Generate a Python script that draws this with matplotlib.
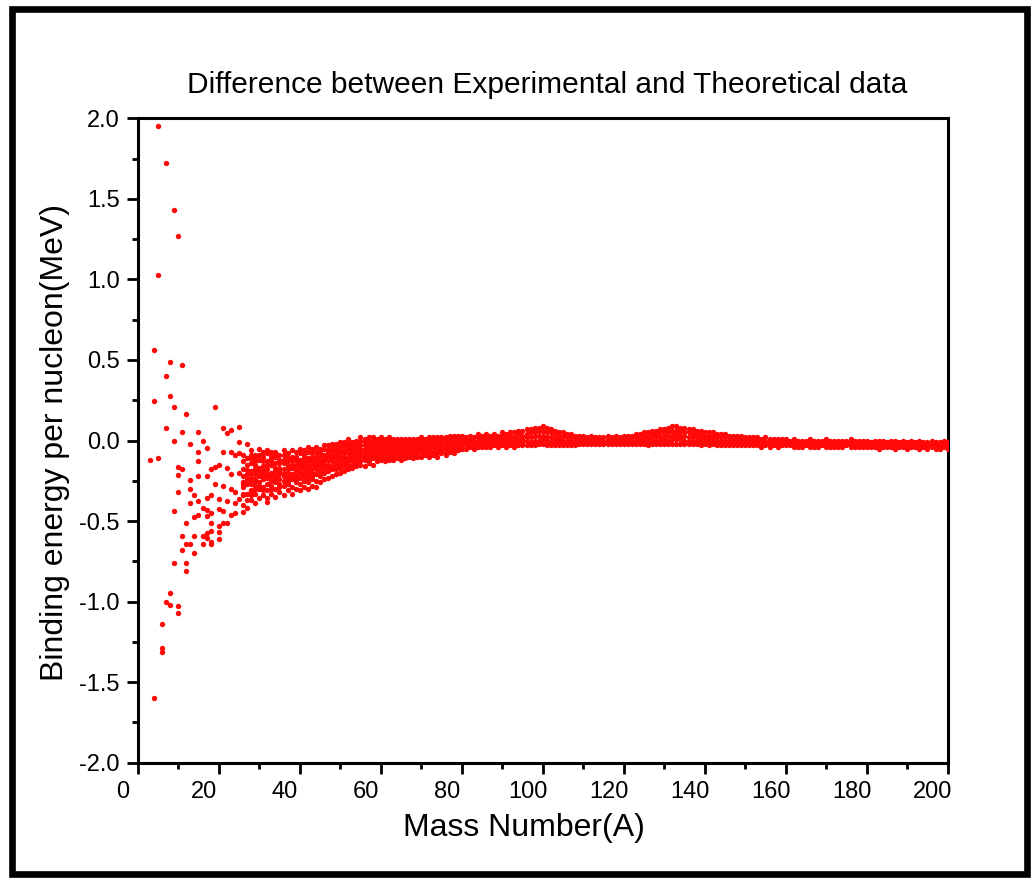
import matplotlib
matplotlib.use("Agg")
import matplotlib.pyplot as plt
import matplotlib.transforms as mtransforms
from matplotlib.patches import Rectangle
from matplotlib.ticker import MultipleLocator

plt.rcParams['font.family'] = ['Liberation Sans', 'DejaVu Sans']

# ---------------- text ----------------
title = "Difference between Experimental and Theoretical data"
xlabel = "Mass Number(A)"
ylabel = "Binding energy per nucleon(MeV)"
x_ticks = [0, 20, 40, 60, 80, 100, 120, 140, 160, 180, 200]
y_ticks = [-2.0, -1.5, -1.0, -0.5, 0.0, 0.5, 1.0, 1.5, 2.0]
y_ticklabels = ["-2.0", "-1.5", "-1.0", "-0.5", "0.0", "0.5", "1.0", "1.5", "2.0"]

# ---------------- light nuclei (individual points) ----------------
light_A = [5, 7, 9, 10, 5,
           4, 8, 11, 7, 4, 8, 9, 19, 12, 7, 11, 15, 21, 22, 23, 25, 9, 13, 16, 17, 15, 21, 25, 27, 31, 3, 5,
           10, 10, 13, 10, 13, 9, 13, 12, 11, 9, 11, 12, 12, 8, 7, 8, 10, 10, 6, 6, 6, 4,
           15, 11, 15, 17, 14, 15, 17, 16, 17, 14, 15, 14, 16, 12, 13, 16, 18, 20, 14,
           25, 24, 27, 29, 23, 19, 20, 18, 22, 23, 25, 27, 29, 31,
           19, 21, 23, 24, 26, 28, 29, 31, 18, 20, 22, 24, 25, 26, 28, 30, 32,
           17, 18, 20, 21, 23, 24, 26, 18, 20, 21, 22, 17, 18, 20, 17, 18,
           28, 29, 33, 34]
light_E = [1.95, 1.72, 1.43, 1.27, 1.03,
           0.56, 0.49, 0.47, 0.40, 0.245, 0.274, 0.21, 0.21, 0.167, 0.076, 0.055, 0.051, 0.076, 0.047, 0.068,
           0.084, 0.0, -0.02, 0.0, -0.046, -0.073, -0.07, -0.01, -0.023, -0.073, -0.12, -0.11,
           -0.164, -0.216, -0.247, -0.32, -0.30, -0.44, -0.39, -0.515, -0.59, -0.76, -0.68, -0.76, -0.81,
           -0.945, -1.0, -1.02, -1.03, -1.07, -1.14, -1.29, -1.31, -1.60,
           -0.127, -0.174, -0.218, -0.218, -0.337, -0.375, -0.356, -0.42, -0.43, -0.476, -0.46, -0.594,
           -0.594, -0.645, -0.64, -0.64, -0.64, -0.61, -0.697,
           -0.077, -0.09, -0.11, -0.104, -0.069, -0.164, -0.15, -0.18, -0.17, -0.21, -0.20, -0.185, -0.176, -0.19,
           -0.273, -0.284, -0.30, -0.32, -0.267, -0.25, -0.24, -0.226, -0.34, -0.366, -0.377, -0.387, -0.366,
           -0.335, -0.315, -0.304, -0.358,
           -0.466, -0.453, -0.428, -0.44, -0.46, -0.453, -0.445, -0.515, -0.53, -0.515, -0.51, -0.573, -0.563,
           -0.57, -0.604, -0.63,
           -0.087, -0.098, -0.094, -0.077]

# ---------------- dense band: one list of values per mass number ----------------
band_A_26_59 = list(range(26, 60))
band_E_26_59 = [
    [-0.09, -0.13, -0.18, -0.22, -0.26, -0.29, -0.34, -0.40],
    [-0.11, -0.15, -0.21, -0.24, -0.27, -0.33, -0.37, -0.42],
    [-0.06, -0.11, -0.14, -0.19, -0.21, -0.23, -0.27, -0.31, -0.34, -0.37],
    [-0.09, -0.13, -0.15, -0.18, -0.21, -0.25, -0.28, -0.30, -0.33, -0.39],
    [-0.05, -0.09, -0.12, -0.17, -0.19, -0.22, -0.26, -0.28, -0.30, -0.36],
    [-0.08, -0.10, -0.13, -0.16, -0.20, -0.22, -0.24, -0.29, -0.31, -0.34],
    [-0.06, -0.08, -0.13, -0.15, -0.18, -0.21, -0.23, -0.27, -0.31, -0.38],
    [-0.07, -0.11, -0.13, -0.15, -0.20, -0.22, -0.25, -0.28, -0.30, -0.33],
    [-0.07, -0.10, -0.14, -0.17, -0.19, -0.22, -0.24, -0.26, -0.30, -0.35],
    [-0.09, -0.12, -0.14, -0.17, -0.19, -0.21, -0.24, -0.27, -0.29, -0.32],
    [-0.06, -0.09, -0.12, -0.14, -0.18, -0.20, -0.22, -0.25, -0.28, -0.34],
    [-0.08, -0.11, -0.13, -0.16, -0.18, -0.20, -0.23, -0.25, -0.27, -0.31],
    [-0.06, -0.10, -0.13, -0.15, -0.17, -0.21, -0.22, -0.24, -0.29, -0.33],
    [-0.07, -0.10, -0.12, -0.15, -0.17, -0.19, -0.22, -0.24, -0.26, -0.30],
    [-0.05, -0.08, -0.12, -0.14, -0.16, -0.18, -0.20, -0.23, -0.27, -0.31],
    [-0.06, -0.09, -0.11, -0.14, -0.16, -0.18, -0.20, -0.22, -0.25, -0.29],
    [-0.04, -0.07, -0.11, -0.13, -0.15, -0.17, -0.19, -0.21, -0.23, -0.26, -0.30],
    [-0.05, -0.08, -0.10, -0.13, -0.15, -0.17, -0.20, -0.22, -0.24, -0.28],
    [-0.04, -0.07, -0.10, -0.12, -0.14, -0.16, -0.18, -0.21, -0.25, -0.29],
    [-0.05, -0.07, -0.09, -0.12, -0.14, -0.16, -0.19, -0.22, -0.26],
    [-0.03, -0.05, -0.09, -0.11, -0.13, -0.15, -0.17, -0.20, -0.24],
    [-0.03, -0.06, -0.08, -0.10, -0.12, -0.15, -0.17, -0.19, -0.23],
    [-0.02, -0.04, -0.06, -0.09, -0.11, -0.13, -0.16, -0.18, -0.22],
    [-0.02, -0.05, -0.07, -0.09, -0.11, -0.14, -0.16, -0.18, -0.21],
    [-0.01, -0.04, -0.06, -0.08, -0.10, -0.12, -0.15, -0.17, -0.20],
    [-0.01, -0.03, -0.06, -0.08, -0.10, -0.13, -0.14, -0.16, -0.19],
    [0.01, -0.02, -0.04, -0.06, -0.08, -0.11, -0.13, -0.15, -0.18],
    [-0.01, -0.03, -0.05, -0.07, -0.09, -0.11, -0.12, -0.15, -0.17],
    [0.00, -0.02, -0.04, -0.06, -0.08, -0.10, -0.12, -0.14, -0.16],
    [0.02, 0.00, -0.03, -0.05, -0.07, -0.09, -0.11, -0.13, -0.15],
    [0.01, -0.01, -0.03, -0.05, -0.07, -0.09, -0.10, -0.12, -0.16],
    [0.02, 0.00, -0.02, -0.04, -0.06, -0.08, -0.10, -0.12, -0.14],
    [0.02, 0.00, -0.02, -0.04, -0.06, -0.08, -0.09, -0.11, -0.15],
    [0.01, -0.01, -0.02, -0.04, -0.06, -0.08, -0.10, -0.11, -0.13],
]

band_A_60_99 = list(range(60, 100))
band_E_60_99 = [
    [0.02, 0.00, -0.02, -0.04, -0.05, -0.07, -0.09, -0.10, -0.12],
    [0.01, -0.01, -0.03, -0.04, -0.06, -0.08, -0.09, -0.11, -0.13],
    [0.02, 0.00, -0.02, -0.04, -0.05, -0.07, -0.09, -0.10, -0.12],
    [0.01, -0.01, -0.02, -0.04, -0.06, -0.07, -0.08, -0.10, -0.12],
    [0.01, -0.01, -0.02, -0.04, -0.05, -0.07, -0.09, -0.11],
    [0.01, -0.01, -0.03, -0.04, -0.05, -0.08, -0.10, -0.12],
    [0.01, 0.00, -0.02, -0.03, -0.05, -0.07, -0.09, -0.11],
    [0.01, -0.01, -0.03, -0.04, -0.05, -0.07, -0.08, -0.10],
    [0.01, 0.00, -0.02, -0.04, -0.05, -0.07, -0.09, -0.11],
    [0.01, -0.01, -0.03, -0.04, -0.05, -0.06, -0.08, -0.10],
    [0.02, 0.01, -0.01, -0.02, -0.04, -0.06, -0.08, -0.10],
    [0.01, 0.00, -0.02, -0.03, -0.05, -0.07, -0.09],
    [0.02, 0.01, -0.01, -0.02, -0.04, -0.06, -0.08, -0.10],
    [0.02, 0.00, -0.02, -0.03, -0.04, -0.07, -0.09],
    [0.02, 0.01, -0.01, -0.03, -0.05, -0.06, -0.08, -0.10],
    [0.02, 0.01, -0.01, -0.03, -0.04, -0.06, -0.08],
    [0.02, 0.01, -0.01, -0.03, -0.04, -0.05, -0.07, -0.09],
    [0.03, 0.02, 0.00, -0.02, -0.04, -0.05, -0.07],
    [0.03, 0.01, 0.00, -0.02, -0.04, -0.06, -0.08],
    [0.03, 0.02, 0.00, -0.02, -0.04, -0.06],
    [0.03, 0.01, -0.01, -0.03, -0.05],
    [0.02, 0.00, -0.02, -0.03, -0.05],
    [0.03, 0.01, -0.01, -0.03, -0.04],
    [0.02, 0.00, -0.02, -0.04, -0.05],
    [0.04, 0.02, 0.00, -0.02, -0.04],
    [0.03, 0.01, -0.01, -0.03, -0.04],
    [0.04, 0.02, 0.00, -0.02, -0.04],
    [0.03, 0.01, -0.01, -0.03, -0.04],
    [0.04, 0.02, 0.00, -0.02, -0.03],
    [0.03, 0.01, -0.01, -0.02, -0.04],
    [0.05, 0.03, 0.01, -0.01, -0.03],
    [0.04, 0.02, 0.00, -0.02, -0.04],
    [0.05, 0.03, 0.01, -0.01, -0.03],
    [0.05, 0.02, 0.00, -0.02, -0.04],
    [0.06, 0.04, 0.01, -0.01, -0.03],
    [0.06, 0.03, 0.01, -0.01, -0.03],
    [0.07, 0.04, 0.02, 0.00, -0.03],
    [0.07, 0.05, 0.02, -0.01, -0.03],
    [0.08, 0.05, 0.03, 0.00, -0.03],
    [0.08, 0.06, 0.03, 0.00, -0.02],
]

band_A_100_149 = list(range(100, 150))
band_E_100_149 = [
    [0.09, 0.06, 0.03, 0.01, -0.02],
    [0.08, 0.05, 0.02, 0.00, -0.03],
    [0.07, 0.05, 0.02, -0.01, -0.03],
    [0.06, 0.04, 0.01, -0.01, -0.03],
    [0.05, 0.03, 0.01, -0.01, -0.03],
    [0.05, 0.03, 0.00, -0.02, -0.03],
    [0.04, 0.02, 0.00, -0.02, -0.03],
    [0.04, 0.02, 0.00, -0.01, -0.03],
    [0.03, 0.02, 0.00, -0.02, -0.03],
    [0.03, 0.01, -0.01, -0.02],
    [0.03, 0.01, 0.00, -0.02],
    [0.02, 0.01, -0.01, -0.02],
    [0.03, 0.01, 0.00, -0.02],
    [0.02, 0.00, -0.01, -0.02],
    [0.02, 0.01, 0.00, -0.02],
    [0.02, 0.00, -0.01, -0.02],
    [0.03, 0.01, 0.00, -0.02],
    [0.02, 0.01, -0.01, -0.02],
    [0.03, 0.01, 0.00, -0.02],
    [0.02, 0.01, -0.01, -0.02],
    [0.03, 0.02, 0.00, -0.02],
    [0.03, 0.01, 0.00, -0.02],
    [0.03, 0.02, 0.00, -0.02],
    [0.04, 0.02, 0.00, -0.02],
    [0.04, 0.02, 0.01, -0.01, -0.02],
    [0.05, 0.03, 0.01, -0.01, -0.02],
    [0.05, 0.03, 0.01, -0.01, -0.03],
    [0.06, 0.04, 0.02, 0.00, -0.02],
    [0.06, 0.04, 0.02, 0.00, -0.02],
    [0.07, 0.05, 0.02, 0.00, -0.02],
    [0.07, 0.05, 0.03, 0.01, -0.02],
    [0.08, 0.05, 0.03, 0.00, -0.02],
    [0.09, 0.06, 0.03, 0.01, -0.02],
    [0.09, 0.06, 0.04, 0.01, -0.02],
    [0.08, 0.06, 0.03, 0.01, -0.02],
    [0.08, 0.05, 0.03, 0.00, -0.02],
    [0.07, 0.05, 0.02, 0.00, -0.02],
    [0.07, 0.04, 0.02, 0.00, -0.02],
    [0.06, 0.04, 0.02, 0.00, -0.02],
    [0.06, 0.04, 0.01, -0.01, -0.03],
    [0.05, 0.03, 0.01, -0.01, -0.02],
    [0.05, 0.03, 0.01, -0.01, -0.03],
    [0.05, 0.03, 0.01, -0.01, -0.02],
    [0.04, 0.02, 0.00, -0.02, -0.03],
    [0.04, 0.02, 0.00, -0.01, -0.03],
    [0.04, 0.02, 0.00, -0.02, -0.03],
    [0.03, 0.02, 0.00, -0.02, -0.03],
    [0.03, 0.01, 0.00, -0.02, -0.03],
    [0.03, 0.01, -0.01, -0.02, -0.03],
    [0.03, 0.01, 0.00, -0.02, -0.03],
]

band_A_150_200 = list(range(150, 201))
band_E_150_200 = [
    [0.02, 0.01, -0.01, -0.02, -0.03],
    [0.02, 0.00, -0.01, -0.03],
    [0.02, 0.01, -0.01, -0.03],
    [0.02, 0.00, -0.02, -0.03],
    [0.01, 0.00, -0.01, -0.03, -0.04],
    [0.02, 0.00, -0.02, -0.03],
    [0.01, 0.00, -0.01, -0.03, -0.04],
    [0.01, -0.01, -0.02, -0.03],
    [0.01, 0.00, -0.02, -0.03, -0.04],
    [0.01, -0.01, -0.02, -0.03],
    [0.01, 0.00, -0.02, -0.03],
    [0.00, -0.01, -0.02, -0.03],
    [0.01, -0.01, -0.02, -0.04],
    [0.00, -0.01, -0.03, -0.04],
    [0.00, -0.02, -0.03, -0.04],
    [0.00, -0.01, -0.02, -0.03],
    [0.01, -0.01, -0.02, -0.04],
    [0.00, -0.01, -0.03, -0.04],
    [0.00, -0.02, -0.03, -0.04],
    [0.00, -0.01, -0.02, -0.03],
    [0.01, -0.01, -0.03, -0.04],
    [0.00, -0.02, -0.03, -0.04],
    [0.00, -0.01, -0.02, -0.04],
    [0.00, -0.01, -0.03, -0.04],
    [0.00, -0.02, -0.03, -0.04],
    [0.00, -0.01, -0.02, -0.03],
    [0.01, -0.01, -0.02, -0.04],
    [0.00, -0.01, -0.03, -0.04],
    [0.00, -0.02, -0.03, -0.04],
    [0.00, -0.01, -0.02, -0.04],
    [0.00, -0.01, -0.03, -0.04],
    [-0.01, -0.02, -0.03, -0.04],
    [0.00, -0.01, -0.03, -0.04],
    [0.00, -0.02, -0.03, -0.05],
    [0.00, -0.01, -0.02, -0.04],
    [-0.01, -0.02, -0.03, -0.04],
    [0.00, -0.01, -0.03, -0.04],
    [0.00, -0.02, -0.03, -0.05],
    [-0.01, -0.02, -0.03, -0.04],
    [0.00, -0.01, -0.03, -0.04],
    [-0.01, -0.02, -0.03, -0.05],
    [0.00, -0.02, -0.03, -0.04],
    [-0.01, -0.02, -0.03, -0.04],
    [0.00, -0.01, -0.03, -0.05],
    [-0.01, -0.02, -0.03, -0.04],
    [-0.01, -0.02, -0.04, -0.05],
    [0.00, -0.02, -0.03, -0.04],
    [-0.01, -0.02, -0.03, -0.05],
    [-0.01, -0.02, -0.04, -0.05],
    [0.00, -0.02, -0.03, -0.04],
    [-0.01, -0.02, -0.03, -0.05],
]

# ---------------- assemble ----------------
xs = list(light_A)
ys = list(light_E)
for A_list, E_list in [(band_A_26_59, band_E_26_59), (band_A_60_99, band_E_60_99),
                       (band_A_100_149, band_E_100_149), (band_A_150_200, band_E_150_200)]:
    for a, vals in zip(A_list, E_list):
        for v in vals:
            xs.append(a)
            ys.append(v)

W, H = 1034, 880
fig = plt.figure(figsize=(W / 100, H / 100), dpi=100)
fig.patch.set_facecolor('white')

# outer black frame
fig.add_artist(Rectangle((12 / W, 6 / H), (1027 - 12) / W, (871 - 6) / H,
                         transform=fig.transFigure, fill=False,
                         edgecolor='black', linewidth=4.8))

x0, x1 = 137.7, 947.7
y_top, y_bot = 118.3, 762.7
ax = fig.add_axes([x0 / W, 1 - y_bot / H, (x1 - x0) / W, (y_bot - y_top) / H])

ax.scatter(xs, ys, s=15, c='#ff0808', linewidths=0, marker='o', zorder=3)

ax.set_xlim(0, 200)
ax.set_ylim(-2.0, 2.0)
ax.set_xticks(x_ticks)
ax.set_yticks(y_ticks)
ax.set_yticklabels(y_ticklabels)
ax.xaxis.set_minor_locator(MultipleLocator(10))
ax.yaxis.set_minor_locator(MultipleLocator(0.25))
ax.tick_params(which='major', direction='out', length=8, width=2.0, labelsize=17,
               top=False, right=False, pad=5)
ax.tick_params(which='minor', direction='out', length=4.5, width=2.0, top=False, right=False)
for sp in ax.spines.values():
    sp.set_linewidth(2.2)

# x tick labels are offset slightly to the left in the original
offset = mtransforms.ScaledTranslation(-15 / 100, 0, fig.dpi_scale_trans)
for lab in ax.get_xticklabels():
    lab.set_transform(lab.get_transform() + offset)

fig.text(547 / W, 1 - 85 / H, title, ha='center', va='center', fontsize=21.5)
fig.text(524 / W, 1 - 828 / H, xlabel, ha='center', va='center', fontsize=23)
fig.text(55 / W, 1 - 442 / H, ylabel, ha='center', va='center', rotation=90, fontsize=23)

fig.savefig('out.png', dpi=100)
